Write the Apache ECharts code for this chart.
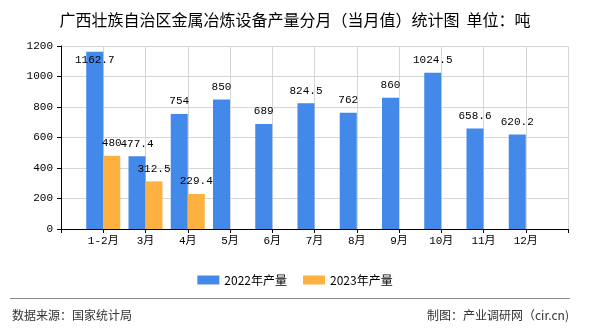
<!DOCTYPE html>
<html>
<head>
<meta charset="utf-8">
<script src="https://cdn.jsdelivr.net/npm/echarts@6/dist/echarts.min.js"></script>
<style>
html,body{margin:0;padding:0;background:#fff;}
#c{width:590px;height:330px;}
</style>
</head>
<body>
<div id="c"></div>
<script>
const titleText = '广西壮族自治区金属冶炼设备产量分月（当月值）统计图  单位：吨';
const categories = ['1-2月','3月','4月','5月','6月','7月','8月','9月','10月','11月','12月'];
const seriesNames = ['2022年产量','2023年产量'];
const values2022 = [1162.7, 477.4, 754, 850, 689, 824.5, 762, 860, 1024.5, 658.6, 620.2];
const values2023 = [480, 312.5, 229.4, null, null, null, null, null, null, null, null];
const yTicks = [0, 200, 400, 600, 800, 1000, 1200];
const sourceText = '数据来源：国家统计局';
const creditText = '制图：产业调研网（cir.cn)';

const MONO = '"Liberation Mono","Noto Sans CJK SC",monospace';
const CJK = '"Noto Sans CJK SC","Liberation Sans",sans-serif';

// pad categories so that the axis has an empty slot on each side
const axisCats = [''].concat(categories, ['']);
function pad(arr){ return [null].concat(arr, [null]); }

const yMax = yTicks[yTicks.length - 1];
function labelled(arr){
  return pad(arr).map(function(v){
    if (v === null) return null;
    if (v > yMax * 0.93) {
      return {value: v, label: {position: 'insideTop', distance: 3}};
    }
    return v;
  });
}

const chart = echarts.init(document.getElementById('c'), null, {renderer: 'canvas'});
const labelStyle = {show: true, position: 'top', distance: 7, color: '#000', fontFamily: MONO, fontSize: 11};

chart.setOption({
  animation: false,
  backgroundColor: '#fff',
  title: {
    text: titleText, left: 'center', top: 7,
    textStyle: {fontFamily: CJK, fontSize: 16, fontWeight: 'normal', color: '#000'}
  },
  legend: {
    data: seriesNames, top: 269, left: 'center',
    itemWidth: 22, itemHeight: 9, itemGap: 16,
    icon: 'rect',
    textStyle: {fontFamily: CJK, fontSize: 12, color: '#000'}
  },
  grid: {left: 61, right: 22, top: 46, bottom: 101, containLabel: false},
  xAxis: {
    type: 'category', data: axisCats, boundaryGap: false,
    axisLine: {lineStyle: {color: '#000', width: 1}},
    axisTick: {show: true, interval: 0, length: 4, lineStyle: {color: '#000'}},
    axisLabel: {interval: 0, color: '#000', fontFamily: MONO, fontSize: 11, margin: 7},
    splitLine: {show: true, interval: 0, lineStyle: {color: '#d6d6d6', width: 1}}
  },
  yAxis: {
    type: 'value', min: yTicks[0], max: yMax, interval: yTicks[1] - yTicks[0],
    axisLine: {show: true, lineStyle: {color: '#000', width: 1}},
    axisTick: {show: true, length: 4, lineStyle: {color: '#000'}},
    axisLabel: {color: '#000', fontFamily: MONO, fontSize: 11, margin: 8,
      formatter: function(v){ return String(v); }},
    splitLine: {show: true, lineStyle: {color: '#d6d6d6', width: 1}}
  },
  series: [
    {name: seriesNames[0], type: 'bar', data: labelled(values2022), barWidth: 17, barGap: '0%',
     itemStyle: {color: '#4289ea'}, label: labelStyle},
    {name: seriesNames[1], type: 'bar', data: labelled(values2023), barWidth: 17, barGap: '0%',
     itemStyle: {color: '#fcb140'}, label: labelStyle}
  ],
  graphic: [
    {type: 'line', shape: {x1: 10, y1: 298.5, x2: 570, y2: 298.5}, style: {stroke: '#888', lineWidth: 1}},
    {type: 'text', left: 12, top: 309, style: {text: sourceText, fontFamily: CJK, fontSize: 12, fill: '#333'}},
    {type: 'text', right: 21, top: 309, style: {text: creditText, fontFamily: CJK, fontSize: 12, fill: '#333'}}
  ]
});
</script>
</body>
</html>
